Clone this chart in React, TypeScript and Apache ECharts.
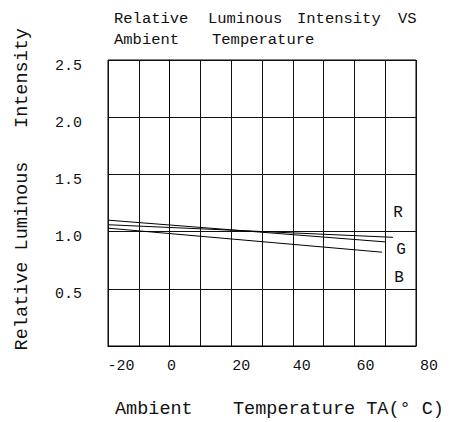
import React, { useEffect, useRef } from "react";
import * as echarts from "echarts";

// ---- data ----
const xTickLabels = [-20, 0, 20, 40, 60, 80];
const yTickLabels = [0.5, 1.0, 1.5, 2.0, 2.5];
const seriesNames = ["R", "G", "B"];
const rTemp = [-20, 72.5];
const rValue = [1.06, 0.95];
const gTemp = [-20, 70];
const gValue = [1.1, 0.91];
const bTemp = [-20, 69];
const bValue = [1.03, 0.82];

const FONT = "'Liberation Mono', 'DejaVu Sans Mono', monospace";

// small horizontal nudges of the x tick labels (as printed on the original sheet)
const xLabelNudge: Record<string, number> = { "-20": 13, "0": 2, "20": 10, "40": 9, "60": 11, "80": 13 };
const richKey = (v: number) => (v < 0 ? "m" + Math.abs(v) : "p" + v);

export default function App() {
  const ref = useRef<HTMLDivElement>(null);
  useEffect(() => {
    if (!ref.current) return;
    const chart = echarts.init(ref.current, undefined, { renderer: "svg" });
    const rich: Record<string, any> = {};
    xTickLabels.forEach((v) => {
      rich[richKey(v)] = {
        fontFamily: FONT,
        fontSize: 15,
        color: "#111",
        padding: [0, 0, 0, 2 * (xLabelNudge[String(v)] || 0)],
      };
    });
    const pairs = (xs: number[], ys: number[]) => xs.map((x, i) => [x, ys[i]]);
    const txt = (text: string, x: number, y: number, size: number, extra: any = {}) => ({
      type: "text",
      x,
      y,
      ...extra,
      style: {
        text,
        fill: "#111",
        fontFamily: FONT,
        fontSize: size,
        align: extra.align || "left",
        verticalAlign: "middle",
      },
    });
    const rot = { rotation: Math.PI / 2, align: "center" };
    chart.setOption({
      animation: false,
      backgroundColor: "#fff",
      grid: { left: 108, right: 37, top: 60, bottom: 76, show: true, borderColor: "#000", borderWidth: 1 },
      xAxis: {
        type: "value",
        min: -20,
        max: 80,
        interval: 10,
        axisLine: { show: true, lineStyle: { color: "#000", width: 1 } },
        axisTick: { show: false },
        splitLine: { show: true, lineStyle: { color: "#111", width: 1 } },
        axisLabel: {
          margin: 13,
          fontFamily: FONT,
          fontSize: 15,
          color: "#111",
          formatter: (v: number) => (xTickLabels.includes(v) ? `{${richKey(v)}|${v}}` : ""),
          rich,
        },
      },
      yAxis: {
        type: "value",
        min: 0,
        max: 2.5,
        interval: 0.5,
        axisLine: { show: true, lineStyle: { color: "#000", width: 1 } },
        axisTick: { show: false },
        splitLine: { show: true, lineStyle: { color: "#111", width: 1 } },
        axisLabel: {
          margin: 26,
          verticalAlign: "top",
          lineHeight: 12,
          fontFamily: FONT,
          fontSize: 15,
          color: "#111",
          formatter: (v: number) => (yTickLabels.some((t) => Math.abs(t - v) < 1e-9) ? v.toFixed(1) : ""),
        },
      },
      series: [
        { name: seriesNames[0], data: pairs(rTemp, rValue) },
        { name: seriesNames[1], data: pairs(gTemp, gValue) },
        { name: seriesNames[2], data: pairs(bTemp, bValue) },
      ].map((s) => ({
        ...s,
        type: "line",
        symbol: "none",
        lineStyle: { color: "#000", width: 1 },
      })),
      graphic: [
        txt("Relative", 114, 19, 15.5),
        txt("Luminous", 208, 19, 15.5),
        txt("Intensity", 297, 19, 15.5),
        txt("VS", 398, 19, 15.5),
        txt("Ambient", 114, 40, 15.5),
        txt("Temperature", 212, 40, 15.5),
        txt("Ambient", 115, 409, 18.5),
        txt("Temperature TA(° C)", 233, 409, 18.5),
        txt("Relative", 22, 306, 18.5, rot),
        txt("Luminous", 22, 206, 18.5, rot),
        txt("Intensity", 22, 78, 18.5, rot),
        txt(seriesNames[0], 398, 213, 16, { align: "center" }),
        txt(seriesNames[1], 401, 250, 16, { align: "center" }),
        txt(seriesNames[2], 399, 278, 16, { align: "center" }),
      ],
    });
    return () => chart.dispose();
  }, []);
  return (
    <div
      ref={ref}
      style={{ position: "fixed", left: 0, top: 0, width: 453, height: 422, background: "#fff" }}
    />
  );
}
